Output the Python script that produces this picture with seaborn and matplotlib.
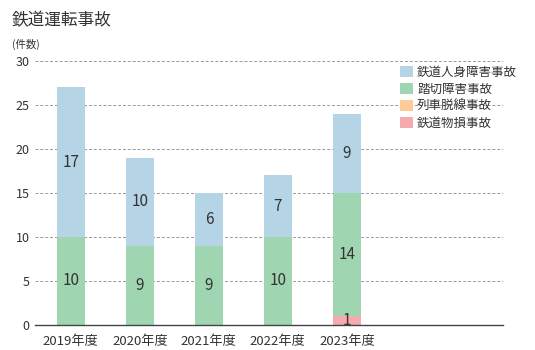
import numpy as np
import pandas as pd
import matplotlib
matplotlib.use("Agg")
import matplotlib.pyplot as plt
import seaborn as sns
from matplotlib.patches import Patch

years = ["2019年度", "2020年度", "2021年度", "2022年度", "2023年度"]
jinshin = [17, 10, 6, 7, 9]      # 鉄道人身障害事故
fumikiri = [10, 9, 9, 10, 14]    # 踏切障害事故
dassen = [0, 0, 0, 0, 0]         # 列車脱線事故
busson = [0, 0, 0, 0, 1]         # 鉄道物損事故

series_names = ["鉄道物損事故", "列車脱線事故", "踏切障害事故", "鉄道人身障害事故"]
series_vals = [busson, dassen, fumikiri, jinshin]
colors = {"鉄道人身障害事故": "#b5d5e7",
          "踏切障害事故": "#9fd5b1",
          "列車脱線事故": "#fdca98",
          "鉄道物損事故": "#f5aab0"}

sns.set_theme(style="white")
plt.rcParams['font.family'] = ['Noto Sans CJK JP', 'DejaVu Sans']
text_color = "#333333"

fig = plt.figure(figsize=(5.35, 3.5), dpi=100)
ax = fig.add_axes([0.0654, 0.0714, 0.8746, 0.7546])

# cumulative stacks, bottom series first
cum = np.cumsum(np.array(series_vals), axis=0)
bottoms = np.vstack([np.zeros(len(years)), cum[:-1]])

# draw tallest stack first so lower segments overlay it
for i in range(len(series_names) - 1, -1, -1):
    df = pd.DataFrame({"year": years, "value": cum[i]})
    sns.barplot(data=df, x="year", y="value", color=colors[series_names[i]],
                width=0.41, saturation=1, ax=ax, zorder=3, linewidth=0)

# segment value labels
for i, name in enumerate(series_names):
    for j, v in enumerate(series_vals[i]):
        if v > 0:
            ax.text(j, bottoms[i][j] + v / 2, f"{v}", ha="center", va="center",
                    fontsize=11, color=text_color, zorder=5)

ax.set_xlim(-0.52, 6.26)
ax.set_ylim(0, 30)
ax.set_yticks(range(0, 31, 5))
ax.set_xlabel("")
ax.set_ylabel("")
ax.yaxis.grid(True, linestyle=(0, (3, 2)), color="#999999", linewidth=0.7, zorder=0)
ax.set_axisbelow(True)
for s in ["top", "right", "left"]:
    ax.spines[s].set_visible(False)
ax.spines["bottom"].set_color("#444444")
ax.spines["bottom"].set_linewidth(1.0)
ax.spines["bottom"].set_zorder(6)
ax.tick_params(axis="y", length=0, pad=4, labelsize=9, labelcolor=text_color)
ax.tick_params(axis="x", length=0, pad=7, labelsize=9.5, labelcolor=text_color)

handles = [Patch(facecolor=colors[n], edgecolor="none") for n in
           ["鉄道人身障害事故", "踏切障害事故", "列車脱線事故", "鉄道物損事故"]]
leg = ax.legend(handles, ["鉄道人身障害事故", "踏切障害事故", "列車脱線事故", "鉄道物損事故"],
                loc="upper left", bbox_to_anchor=(0.77, 1.0), frameon=False,
                fontsize=9, handlelength=1.0, handleheight=1.0, handletextpad=0.35,
                labelspacing=0.32, borderaxespad=0)
for t in leg.get_texts():
    t.set_color(text_color)

fig.text(0.022, 0.94, "鉄道運転事故", fontsize=12, color=text_color, va="center")
fig.text(0.022, 0.872, "(件数)", fontsize=7.5, color=text_color, va="center")

fig.savefig("out.png", dpi=100)
